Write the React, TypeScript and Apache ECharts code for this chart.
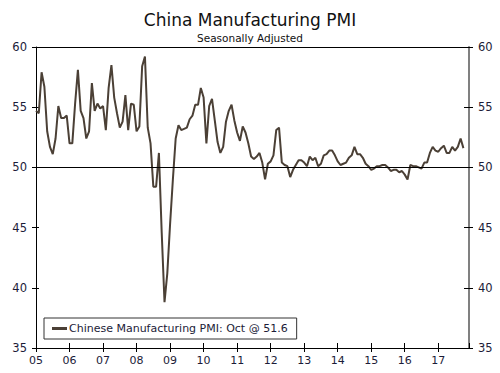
import React, { useEffect, useRef } from "react";
import * as echarts from "echarts";

const startYear = 2005;
const pmi2005 = [54.7, 54.5, 57.9, 56.7, 53.0, 51.7, 51.1, 52.4, 55.1, 54.1, 54.1, 54.3];
const pmi2006 = [52.0, 52.0, 55.3, 58.1, 54.7, 54.1, 52.4, 53.0, 57.0, 54.7, 55.3, 54.9];
const pmi2007 = [55.1, 53.1, 56.6, 58.5, 55.8, 54.5, 53.3, 53.8, 56.0, 53.1, 55.3, 55.2];
const pmi2008 = [53.0, 53.4, 58.4, 59.2, 53.3, 52.0, 48.4, 48.4, 51.2, 44.6, 38.8, 41.2];
const pmi2009 = [45.3, 49.0, 52.4, 53.5, 53.1, 53.2, 53.3, 54.0, 54.3, 55.2, 55.2, 56.6];
const pmi2010 = [55.8, 52.0, 55.1, 55.7, 53.9, 52.1, 51.2, 51.7, 53.8, 54.7, 55.2, 53.9];
const pmi2011 = [52.9, 52.2, 53.4, 52.9, 52.0, 50.9, 50.7, 50.9, 51.2, 50.4, 49.0, 50.3];
const pmi2012 = [50.5, 51.0, 53.1, 53.3, 50.4, 50.2, 50.1, 49.2, 49.8, 50.2, 50.6, 50.6];
const pmi2013 = [50.4, 50.1, 50.9, 50.6, 50.8, 50.1, 50.3, 51.0, 51.1, 51.4, 51.4, 51.0];
const pmi2014 = [50.5, 50.2, 50.3, 50.4, 50.8, 51.0, 51.7, 51.1, 51.1, 50.8, 50.3, 50.1];
const pmi2015 = [49.8, 49.9, 50.1, 50.1, 50.2, 50.2, 50.0, 49.7, 49.8, 49.8, 49.6, 49.7];
const pmi2016 = [49.4, 49.0, 50.2, 50.1, 50.1, 50.0, 49.9, 50.4, 50.4, 51.2, 51.7, 51.4];
const pmi2017 = [51.3, 51.6, 51.8, 51.2, 51.2, 51.7, 51.4, 51.7, 52.4, 51.6];

const yearLabels = ["05", "06", "07", "08", "09", "10", "11", "12", "13", "14", "15", "16", "17"];
const seriesName = "Chinese Manufacturing PMI: Oct @ 51.6";
const titleText = "China Manufacturing PMI";
const subtitleText = "Seasonally Adjusted";

const allValues = [
  ...pmi2005, ...pmi2006, ...pmi2007, ...pmi2008, ...pmi2009, ...pmi2010, ...pmi2011,
  ...pmi2012, ...pmi2013, ...pmi2014, ...pmi2015, ...pmi2016, ...pmi2017,
];

const FONT = "DejaVu Sans";
const TXT = "#1c1c38";
const LINE = "#4b4036";

export default function App() {
  const ref = useRef<HTMLDivElement>(null);
  useEffect(() => {
    if (!ref.current) return;
    const chart = echarts.init(ref.current, undefined, { renderer: "svg" });
    const data = allValues.map((v, i) => [i, v]);
    const gridPos = { left: 36, right: 31, top: 47, bottom: 25 };
    const xMax = 155;
    const xLabel = (v: number) => {
      if (v % 12 !== 0) return "";
      const idx = v / 12;
      return idx < yearLabels.length ? yearLabels[idx] : "";
    };
    const baseY = { type: "value", min: 35, max: 60, interval: 5, splitLine: { show: false } } as any;
    const baseX = { type: "value", min: 0, max: xMax, interval: 12, splitLine: { show: false } } as any;
    chart.setOption({
      animation: false,
      backgroundColor: "#ffffff",
      textStyle: { fontFamily: FONT },
      title: [
        { text: titleText, left: "center", top: 6, textStyle: { fontFamily: FONT, fontSize: 17, fontWeight: "normal", color: "#111111" } },
        { text: subtitleText, left: "center", top: 27, textStyle: { fontFamily: FONT, fontSize: 10.5, fontWeight: "normal", color: "#111111" } },
      ],
      legend: {
        data: [{ name: seriesName, icon: "rect", itemStyle: { color: LINE } }],
        left: 44,
        top: 318,
        orient: "horizontal",
        borderColor: "#333333",
        borderWidth: 1,
        padding: [5, 9, 5, 8],
        itemWidth: 15,
        itemHeight: 3,
        itemGap: 2,
        textStyle: { fontFamily: FONT, fontSize: 11, color: TXT, padding: [0, 0, 0, -3] },
      },
      grid: [
        { ...gridPos },
        { ...gridPos },
      ],
      xAxis: [
        {
          ...baseX,
          gridIndex: 0,
          position: "bottom",
          axisLine: { show: true, lineStyle: { color: "#000000", width: 1 } },
          axisTick: { show: true, inside: false, length: 4, lineStyle: { color: "#000000" } },
          axisLabel: { formatter: xLabel, color: TXT, fontSize: 11, fontFamily: FONT, margin: 7, showMaxLabel: false },
        },
        {
          ...baseX,
          gridIndex: 1,
          position: "bottom",
          axisLine: { show: false },
          axisTick: { show: true, inside: true, length: 5, lineStyle: { color: "#000000" } },
          axisLabel: { show: false },
        },
      ],
      yAxis: [
        {
          ...baseY,
          gridIndex: 0,
          position: "left",
          axisLine: { show: true, lineStyle: { color: "#000000", width: 1 } },
          axisTick: { show: true, inside: false, length: 4, lineStyle: { color: "#000000" } },
          axisLabel: { color: TXT, fontSize: 11.5, fontFamily: FONT, margin: 9 },
        },
        {
          ...baseY,
          gridIndex: 0,
          position: "right",
          axisLine: { show: true, lineStyle: { color: "#808080", width: 2 } },
          axisTick: { show: true, inside: false, length: 4, lineStyle: { color: "#000000" } },
          axisLabel: { color: TXT, fontSize: 11.5, fontFamily: FONT, margin: 9 },
        },
        {
          ...baseY,
          gridIndex: 1,
          position: "left",
          axisLine: { show: false },
          axisTick: { show: true, inside: true, length: 3, lineStyle: { color: "#000000" } },
          axisLabel: { show: false },
        },
        {
          ...baseY,
          gridIndex: 1,
          position: "right",
          axisLine: { show: false },
          axisTick: { show: true, inside: true, length: 5, lineStyle: { color: "#000000" } },
          axisLabel: { show: false },
        },
      ],
      series: [
        {
          name: seriesName,
          type: "line",
          xAxisIndex: 0,
          yAxisIndex: 0,
          data,
          symbol: "none",
          showSymbol: false,
          lineStyle: { color: LINE, width: 2 },
          itemStyle: { color: LINE },
          markLine: {
            silent: true,
            symbol: "none",
            label: { show: false },
            lineStyle: { color: "#000000", width: 1, type: "solid" },
            data: [{ yAxis: 50 }, { yAxis: 60 }],
          },
          z: 3,
        },
        {
          name: "ticks",
          type: "line",
          xAxisIndex: 1,
          yAxisIndex: 2,
          data: [],
          symbol: "none",
        },
      ],
    } as any);
    return () => chart.dispose();
  }, []);
  return <div ref={ref} style={{ position: "fixed", left: 0, top: 0, width: 500, height: 373 }} />;
}
